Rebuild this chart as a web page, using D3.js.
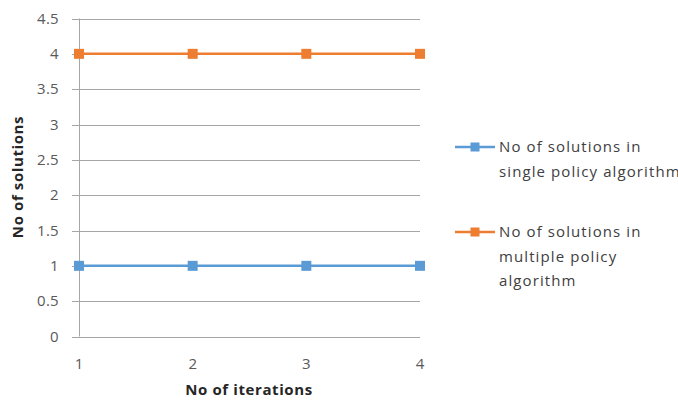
<!DOCTYPE html>
<html>
<head>
<meta charset="utf-8">
<script src="https://cdn.jsdelivr.net/npm/d3@7"></script>
<style>
  html, body { margin: 0; padding: 0; background: #fff; }
  svg { display: block; font-family: "Open Sans", "Liberation Sans", sans-serif; }
</style>
</head>
<body>
<svg id="chart" width="678" height="404"></svg>
<script>
// Iteration numbers on the x axis
const iterations = [1, 2, 3, 4];
// Number of solutions found per iteration
const singlePolicy = [1, 1, 1, 1];
const multiplePolicy = [4, 4, 4, 4];
// Y axis ticks
const yTicks = [0, 0.5, 1, 1.5, 2, 2.5, 3, 3.5, 4, 4.5];
const seriesNames = [
  ["No of solutions in", "single policy algorithm"],
  ["No of solutions in", "multiple policy", "algorithm"]
];
const seriesColors = ["#5B9BD5", "#ED7D31"];

const svg = d3.select("#chart");
const plotLeft = 79, plotRight = 420, plotTop = 18.5, plotBottom = 336.5;

const x = d3.scaleLinear().domain([1, 4]).range([plotLeft, plotRight]);
const y = d3.scaleLinear().domain([0, 4.5]).range([plotBottom, plotTop]);

// Horizontal gridlines with short ticks to the left of the axis
const grid = svg.append("g");
grid.selectAll("line").data(yTicks).join("line")
  .attr("x1", plotLeft - 7).attr("x2", plotRight)
  .attr("y1", d => Math.round(y(d)) + 0.5).attr("y2", d => Math.round(y(d)) + 0.5)
  .attr("stroke", "#A6A6A6").attr("stroke-width", 1);

// Vertical axis line
svg.append("line")
  .attr("x1", plotLeft + 0.5).attr("x2", plotLeft + 0.5)
  .attr("y1", y(4.5)).attr("y2", y(0))
  .attr("stroke", "#A6A6A6").attr("stroke-width", 1);

// Y tick labels
svg.append("g").selectAll("text").data(yTicks).join("text")
  .attr("x", plotLeft - 20).attr("y", d => y(d))
  .attr("dy", "0.35em")
  .attr("text-anchor", "end")
  .attr("font-size", 15)
  .attr("letter-spacing", 0.3)
  .attr("fill", "#595959")
  .text(d => d);

// X tick labels
svg.append("g").selectAll("text").data(iterations).join("text")
  .attr("x", d => x(d)).attr("y", 364)
  .attr("dy", "0.35em")
  .attr("text-anchor", "middle")
  .attr("font-size", 15)
  .attr("fill", "#595959")
  .text(d => d);

// Axis titles
svg.append("text")
  .attr("x", 249).attr("y", 390).attr("dy", "0.35em")
  .attr("text-anchor", "middle")
  .attr("font-size", 15).attr("font-weight", "bold")
  .attr("letter-spacing", 0.6)
  .attr("fill", "#262626")
  .text("No of iterations");

svg.append("text")
  .attr("transform", "translate(18,177) rotate(-90)")
  .attr("dy", "0.35em")
  .attr("text-anchor", "middle")
  .attr("font-size", 15).attr("font-weight", "bold")
  .attr("letter-spacing", 0.6)
  .attr("fill", "#262626")
  .text("No of solutions");

// Series lines and square markers
const series = [singlePolicy, multiplePolicy];
const line = d3.line().x((d, i) => x(iterations[i])).y(d => y(d));
series.forEach((vals, s) => {
  svg.append("path")
    .datum(vals)
    .attr("d", line)
    .attr("fill", "none")
    .attr("stroke", seriesColors[s])
    .attr("stroke-width", 2.5);
  svg.append("g").selectAll("rect").data(vals).join("rect")
    .attr("x", (d, i) => x(iterations[i]) - 5)
    .attr("y", d => y(d) - 5)
    .attr("width", 10).attr("height", 10)
    .attr("fill", seriesColors[s]);
});

// Legend
const legendY = [147, 232];
series.forEach((vals, s) => {
  const g = svg.append("g").attr("transform", `translate(455,${legendY[s]})`);
  g.append("line").attr("x1", 0).attr("x2", 40).attr("y1", 0).attr("y2", 0)
    .attr("stroke", seriesColors[s]).attr("stroke-width", 2.5);
  g.append("rect").attr("x", 15.5).attr("y", -4.5).attr("width", 9).attr("height", 9)
    .attr("fill", seriesColors[s]);
  g.append("g").selectAll("text").data(seriesNames[s]).join("text")
    .attr("x", 44).attr("y", (d, i) => i * 24.5)
    .attr("dy", "0.35em")
    .attr("font-size", 15)
    .attr("letter-spacing", 1.1)
    .attr("fill", "#404040")
    .text(d => d);
});
</script>
</body>
</html>
